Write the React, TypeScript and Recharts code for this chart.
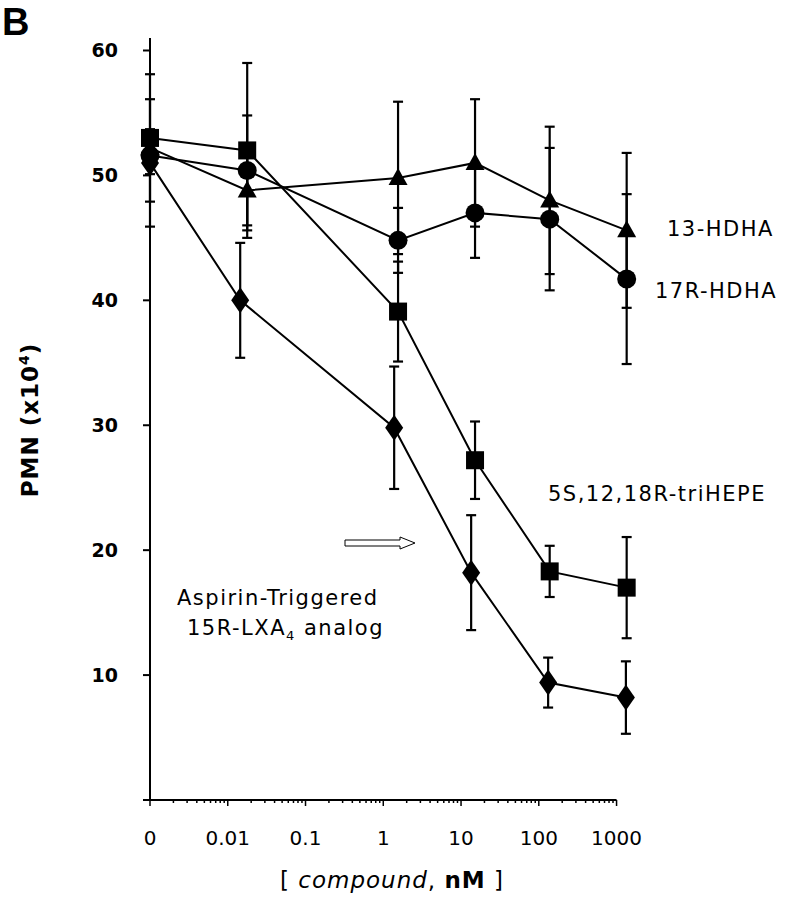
import {
  ComposedChart,
  Line,
  XAxis,
  YAxis,
  ErrorBar,
  ReferenceLine,
} from "recharts";

// x positions are log10(nM); the "0" dose sits on the left end (-3)
const xDoses = [-3, -1.75, 0.19, 1.18, 2.14, 3.13];
const xDiamond = [-3, -1.84, 0.14, 1.13, 2.12, 3.12];

const hdha13 = [52.2, 48.8, 49.8, 51.0, 48.0, 45.6];
const hdha13Err = [1.5, 3.2, 6.1, 5.1, 5.9, 6.2];

const hdha17r = [51.6, 50.4, 44.8, 47.0, 46.5, 41.7];
const hdha17rErr = [1.5, 4.4, 2.6, 3.6, 5.7, 6.8];

const triHepe = [53.0, 52.0, 39.1, 27.2, 18.3, 17.0];
const triHepeErr = [5.1, 7.0, 4.0, 3.1, 2.05, 4.05];

const lxa4 = [51.0, 40.0, 29.8, 18.2, 9.4, 8.2];
const lxa4Err = [5.1, 4.6, 4.9, 4.6, 2.0, 2.9];

const xMajor = [-3, -2, -1, 0, 1, 2, 3];
const xMajorLabels = ["0", "0.01", "0.1", "1", "10", "100", "1000"];
const yTicks = [0, 10, 20, 30, 40, 50, 60];

const rows = (xs: number[], ys: number[], es: number[]) =>
  xs.map((x, i) => ({ x, y: ys[i], err: es[i] }));

// minor log ticks 2..9 in each decade
const xTicks: number[] = [];
xMajor.forEach((d, i) => {
  xTicks.push(d);
  if (i < xMajor.length - 1) {
    for (let k = 2; k <= 9; k++) xTicks.push(d + Math.log10(k));
  }
});

const FONT = "DejaVu Sans";

function XTick({ x, y, payload }: any) {
  const v = payload.value;
  const idx = xMajor.findIndex((m) => Math.abs(m - v) < 1e-9);
  const major = idx >= 0;
  return (
    <g>
      <line x1={x} x2={x} y1={y} y2={y + (major ? 6 : 3)} stroke="#000" strokeWidth={1.5} />
      {major && (
        <text x={x} y={y + 45} textAnchor="middle" fontFamily={FONT} fontSize={20} fill="#000">
          {xMajorLabels[idx]}
        </text>
      )}
    </g>
  );
}

function YTick({ x, y, payload }: any) {
  return (
    <g>
      <line x1={x - 7} x2={x} y1={y} y2={y} stroke="#000" strokeWidth={2} />
      {payload.value > 0 && (
        <text x={x - 32} y={y + 7} textAnchor="end" fontFamily={FONT} fontWeight="bold" fontSize={19} fill="#000">
          {payload.value}
        </text>
      )}
    </g>
  );
}

const Square = ({ cx, cy }: any) => <rect x={cx - 9} y={cy - 9} width={18} height={18} fill="#000" />;
const Circle = ({ cx, cy }: any) => <circle cx={cx} cy={cy} r={9.5} fill="#000" />;
const Triangle = ({ cx, cy }: any) => (
  <path d={`M${cx},${cy - 10} L${cx + 9.5},${cy + 7} L${cx - 9.5},${cy + 7} Z`} fill="#000" />
);
const Diamond = ({ cx, cy }: any) => (
  <path d={`M${cx},${cy - 13} L${cx + 9},${cy} L${cx},${cy + 13} L${cx - 9},${cy} Z`} fill="#000" />
);

const annot = { fontFamily: FONT, fontSize: 21, fill: "#000", letterSpacing: 1.5 } as const;

export default function App() {
  const series = [
    { name: "lxa4", data: rows(xDiamond, lxa4, lxa4Err), dot: Diamond },
    { name: "trihepe", data: rows(xDoses, triHepe, triHepeErr), dot: Square },
    { name: "17r", data: rows(xDoses, hdha17r, hdha17rErr), dot: Circle },
    { name: "13", data: rows(xDoses, hdha13, hdha13Err), dot: Triangle },
  ];
  return (
    <div style={{ position: "absolute", left: 0, top: 0, width: 785, height: 900, background: "#fff" }}>
      <ComposedChart width={785} height={900} margin={{ top: 38, right: 149, left: 90, bottom: 40 }}>
        <XAxis
          type="number"
          dataKey="x"
          domain={[-3, 3.25]}
          ticks={xTicks}
          interval={0}
          tick={<XTick />}
          tickLine={false}
          tickSize={0}
          tickMargin={0}
          axisLine={false}
          height={60}
        />
        <YAxis
          type="number"
          domain={[0, 61]}
          ticks={yTicks}
          interval={0}
          tick={<YTick />}
          tickLine={false}
          tickSize={0}
          tickMargin={0}
          axisLine={{ stroke: "#000", strokeWidth: 2 }}
          width={60}
        />
        <ReferenceLine
          segment={[
            { x: -3, y: 0 },
            { x: 3, y: 0 },
          ]}
          stroke="#000"
          strokeWidth={2}
        />
        {series.map((s) => (
          <Line
            key={s.name}
            data={s.data}
            dataKey="y"
            stroke="#000"
            strokeWidth={2}
            dot={s.dot}
            activeDot={false}
            isAnimationActive={false}
          >
            <ErrorBar dataKey="err" direction="y" width={5} stroke="#000" strokeWidth={2.2} />
          </Line>
        ))}
      </ComposedChart>
      <svg width={785} height={900} style={{ position: "absolute", left: 0, top: 0, pointerEvents: "none" }}>
        <text x={2} y={35} fontFamily="Liberation Sans" fontWeight="bold" fontSize={38} fill="#000">
          B
        </text>
        <text
          transform="translate(38,420) rotate(-90)"
          textAnchor="middle"
          fontFamily={FONT}
          fontWeight="bold"
          fontSize={23}
          letterSpacing={1}
          fill="#000"
        >
          PMN (x10<tspan dy={-9} fontSize={14}>4</tspan>
          <tspan dy={9}>)</tspan>
        </text>
        <text x={392} y={888} textAnchor="middle" fontFamily={FONT} fontSize={23} fill="#000" letterSpacing={1}>
          [ <tspan fontStyle="italic">compound</tspan>, <tspan fontWeight="bold">nM</tspan> ]
        </text>
        <text x={667} y={236} {...annot}>13-HDHA</text>
        <text x={655} y={298} {...annot}>17R-HDHA</text>
        <text x={548} y={501} {...annot}>5S,12,18R-triHEPE</text>
        <text x={177} y={605} {...annot}>Aspirin-Triggered</text>
        <text x={187} y={635} {...annot}>
          15R-LXA<tspan dy={5} fontSize={13}>4</tspan>
          <tspan dy={-5}> analog</tspan>
        </text>
        <path
          d="M345,540 L400,540 L400,537 L415,543 L400,549 L400,546 L345,546 Z"
          fill="#fff"
          stroke="#000"
          strokeWidth={1}
        />
      </svg>
    </div>
  );
}
